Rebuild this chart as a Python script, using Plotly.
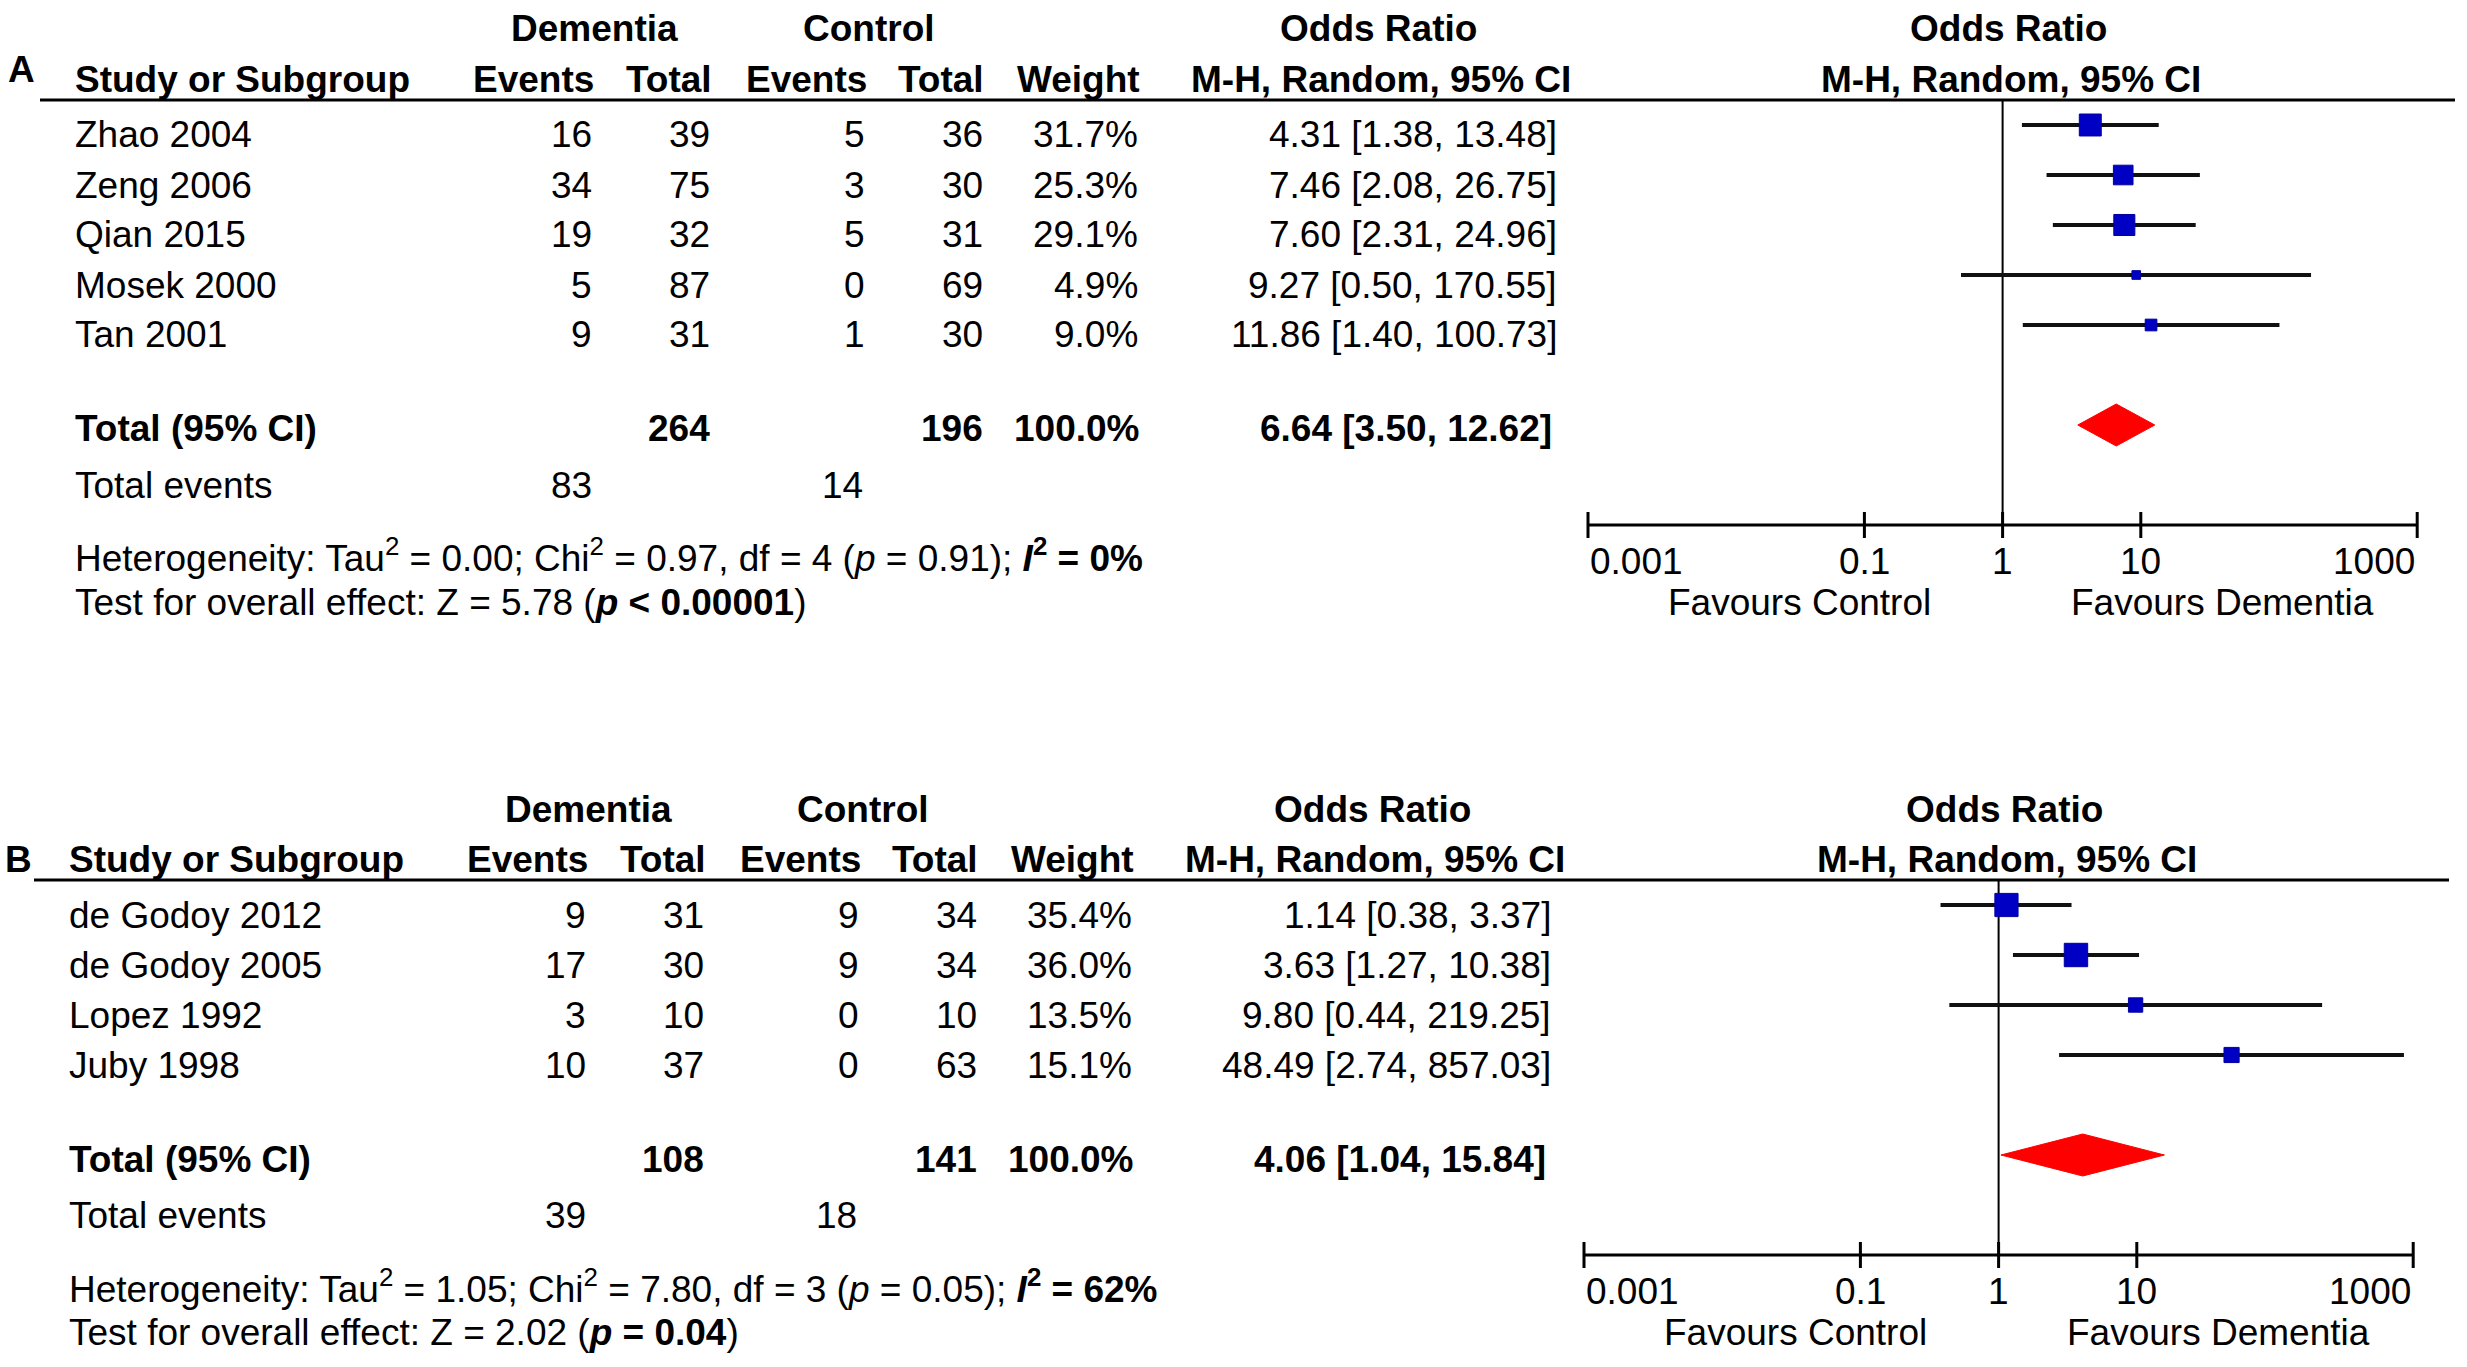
import numpy as np
import plotly.graph_objects as go

W, H = 2467, 1367
FONT = "Liberation Sans, Arial, Helvetica, sans-serif"
FS = 37

# ---- panel A data ----
A_STUDY = ["Zhao 2004", "Zeng 2006", "Qian 2015", "Mosek 2000", "Tan 2001"]
A_DEM_EV = [16, 34, 19, 5, 9]
A_DEM_N = [39, 75, 32, 87, 31]
A_CTL_EV = [5, 3, 5, 0, 1]
A_CTL_N = [36, 30, 31, 69, 30]
A_WEIGHT = [31.7, 25.3, 29.1, 4.9, 9.0]
A_OR = [4.31, 7.46, 7.60, 9.27, 11.86]
A_LO = [1.38, 2.08, 2.31, 0.50, 1.40]
A_HI = [13.48, 26.75, 24.96, 170.55, 100.73]
A_TOT_N = [264, 196]
A_TOT_EV = [83, 14]
A_TOT_OR = [6.64, 3.50, 12.62]
A_HET = ("Heterogeneity: Tau<sup>2</sup> = 0.00; Chi<sup>2</sup> = 0.97, df = 4 "
         "(<i>p</i> = 0.91); <b><i>I</i><sup>2</sup> = 0%</b>")
A_TEST = "Test for overall effect: Z = 5.78 (<b><i>p</i> &lt; 0.00001</b>)"

# ---- panel B data ----
B_STUDY = ["de Godoy 2012", "de Godoy 2005", "Lopez 1992", "Juby 1998"]
B_DEM_EV = [9, 17, 3, 10]
B_DEM_N = [31, 30, 10, 37]
B_CTL_EV = [9, 9, 0, 0]
B_CTL_N = [34, 34, 10, 63]
B_WEIGHT = [35.4, 36.0, 13.5, 15.1]
B_OR = [1.14, 3.63, 9.80, 48.49]
B_LO = [0.38, 1.27, 0.44, 2.74]
B_HI = [3.37, 10.38, 219.25, 857.03]
B_TOT_N = [108, 141]
B_TOT_EV = [39, 18]
B_TOT_OR = [4.06, 1.04, 15.84]
B_HET = ("Heterogeneity: Tau<sup>2</sup> = 1.05; Chi<sup>2</sup> = 7.80, df = 3 "
         "(<i>p</i> = 0.05); <b><i>I</i><sup>2</sup> = 62%</b>")
B_TEST = "Test for overall effect: Z = 2.02 (<b><i>p</i> = 0.04</b>)"

TICK_VALS = [0.001, 0.1, 1, 10, 1000]
TICK_TEXT = ["0.001", "0.1", "1", "10", "1000"]
TICK_ANCHOR = ["left", "center", "center", "center", "right"]


def px(x):
    return x / W


def py(y):
    return 1 - y / H


fig = go.Figure()
annotations = []
shapes = []


def txt(x, y, s, anchor="right", bold=False):
    if bold:
        s = f"<b>{s}</b>"
    annotations.append(dict(
        x=px(x), y=py(y), xref="paper", yref="paper", text=s,
        showarrow=False, xanchor=anchor, yanchor="middle",
        font=dict(family=FONT, size=FS, color="black"),
    ))


def panel(idx, letter, top, dx, fdx, study, dev, dn, cev, cn, wt, orr, lo, hi,
          tot_n, tot_ev, tot_or, het, test):
    n = len(study)
    xa = "x" if idx == 1 else f"x{idx}"
    ya = "y" if idx == 1 else f"y{idx}"

    # column headers
    txt(594 + dx, top + 29, "Dementia", "center", True)
    txt(869 + dx, top + 29, "Control", "center", True)
    txt(1378 + dx, top + 29, "Odds Ratio", "center", True)
    txt(2010 + fdx, top + 29, "Odds Ratio", "center", True)
    h2 = top + 79
    txt(73 + dx, h2, "Study or Subgroup", "left", True)
    txt(596 + dx, h2, "Events", bold=True)
    txt(714 + dx, h2, "Total", bold=True)
    txt(869 + dx, h2, "Events", bold=True)
    txt(986 + dx, h2, "Total", bold=True)
    txt(1142 + dx, h2, "Weight", bold=True)
    txt(1381 + dx, h2, "M-H, Random, 95% CI", "center", True)
    txt(2013 + fdx, h2, "M-H, Random, 95% CI", "center", True)
    annotations.append(dict(
        x=px(6 + dx / 2), y=py(top + 69 if idx == 1 else top + 79), xref="paper", yref="paper",
        text=f"<b>{letter}</b>", showarrow=False, xanchor="left", yanchor="middle",
        font=dict(family=FONT, size=FS, color="black"),
    ))
    shapes.append(dict(type="line", xref="paper", yref="paper",
                       x0=px(40 + dx), x1=px(2455 + dx), y0=py(top + 100), y1=py(top + 100),
                       line=dict(color="black", width=3)))

    # study rows
    for i in range(n):
        y = top + 135 + 50 * i
        txt(73 + dx, y, study[i], "left")
        txt(594 + dx, y, str(dev[i]))
        txt(712 + dx, y, str(dn[i]))
        txt(867 + dx, y, str(cev[i]))
        txt(985 + dx, y, str(cn[i]))
        txt(1140 + dx, y, f"{wt[i]:.1f}%")
        txt(1559 + dx, y, f"{orr[i]:.2f} [{lo[i]:.2f}, {hi[i]:.2f}]")

    yt = top + 129 + 50 * (n + 1)
    txt(73 + dx, yt, "Total (95% CI)", "left", True)
    txt(712 + dx, yt, str(tot_n[0]), bold=True)
    txt(985 + dx, yt, str(tot_n[1]), bold=True)
    txt(1142 + dx, yt, "100.0%", bold=True)
    txt(1554 + dx, yt, f"{tot_or[0]:.2f} [{tot_or[1]:.2f}, {tot_or[2]:.2f}]", bold=True)
    txt(73 + dx, yt + 56, "Total events", "left")
    txt(594 + dx, yt + 56, str(tot_ev[0]))
    txt(865 + dx, yt + 56, str(tot_ev[1]))
    txt(73 + dx, yt + 127, het, "left")
    txt(73 + dx, yt + 173, test, "left")

    # forest plot
    ax_row = n + 3
    null_line = go.Scatter(x=[1, 1], y=[-0.5, ax_row], mode="lines",
                           line=dict(color="black", width=2), xaxis=xa, yaxis=ya,
                           hoverinfo="skip", showlegend=False)
    cx, cy = [], []
    for i in range(n):
        cx += [lo[i], hi[i], None]
        cy += [i, i, None]
    ci = go.Scatter(x=cx, y=cy, mode="lines", line=dict(color="#111111", width=3.8),
                    xaxis=xa, yaxis=ya, hoverinfo="skip", showlegend=False)
    sq = go.Scatter(x=orr, y=list(range(n)), mode="markers",
                    marker=dict(symbol="square", color="#0000c4", opacity=1,
                                size=[3.9 * np.sqrt(w) for w in wt],
                                line=dict(width=1, color="#0000a0")),
                    xaxis=xa, yaxis=ya, showlegend=False)
    r = n + 1
    dia = go.Scatter(x=[tot_or[1], tot_or[0], tot_or[2], tot_or[0], tot_or[1]],
                     y=[r, r - 0.42, r, r + 0.42, r], mode="lines", fill="toself",
                     fillcolor="#ff0000", line=dict(color="#ff0000", width=1),
                     xaxis=xa, yaxis=ya, hoverinfo="skip", showlegend=False)
    axis_line = go.Scatter(x=[TICK_VALS[0], TICK_VALS[-1]], y=[ax_row, ax_row], mode="lines",
                           line=dict(color="black", width=3), xaxis=xa, yaxis=ya,
                           hoverinfo="skip", showlegend=False)
    tx, ty = [], []
    for t in TICK_VALS:
        tx += [t, t, None]
        ty += [ax_row - 0.26, ax_row + 0.26, None]
    ticks = go.Scatter(x=tx, y=ty, mode="lines", line=dict(color="black", width=3),
                       xaxis=xa, yaxis=ya, hoverinfo="skip", showlegend=False)
    fig.add_traces([null_line, ci, sq, dia, axis_line, ticks])

    axis_px = top + 125 + 50 * ax_row
    for t, s, anc in zip(TICK_VALS, TICK_TEXT, TICK_ANCHOR):
        annotations.append(dict(
            x=np.log10(t), y=py(axis_px + 36), xref=xa, yref="paper", text=s,
            showarrow=False, xanchor=anc, yanchor="middle",
            font=dict(family=FONT, size=FS, color="black"),
        ))
    txt(1801 + fdx, axis_px + 77, "Favours Control", "center")
    txt(2224 + fdx, axis_px + 77, "Favours Dementia", "center")

    x0 = 1590 + fdx
    dec = 138.2
    fig.update_layout(**{
        ("xaxis" if idx == 1 else f"xaxis{idx}"): dict(
            type="log", range=[-3.1, 3.1],
            domain=[px(x0 - 0.1 * dec), px(x0 + 6.1 * dec)], visible=False,
            anchor=ya, fixedrange=True),
        ("yaxis" if idx == 1 else f"yaxis{idx}"): dict(
            range=[n + 3.5, -0.5],
            domain=[py(top + 100 + 50 * (n + 4)), py(top + 100)], visible=False,
            anchor=xa, fixedrange=True),
    })


panel(1, "A", 0, 0, -2, A_STUDY, A_DEM_EV, A_DEM_N, A_CTL_EV, A_CTL_N, A_WEIGHT,
      A_OR, A_LO, A_HI, A_TOT_N, A_TOT_EV, A_TOT_OR, A_HET, A_TEST)
panel(2, "B", 780, -6, -6, B_STUDY, B_DEM_EV, B_DEM_N, B_CTL_EV, B_CTL_N, B_WEIGHT,
      B_OR, B_LO, B_HI, B_TOT_N, B_TOT_EV, B_TOT_OR, B_HET, B_TEST)

fig.update_layout(
    width=W, height=H, margin=dict(l=0, r=0, t=0, b=0),
    paper_bgcolor="white", plot_bgcolor="rgba(0,0,0,0)",
    annotations=annotations, shapes=shapes, showlegend=False,
    font=dict(family=FONT, size=FS, color="black"),
)

fig.write_html("out.html", config={"displayModeBar": False},
               post_script="document.body.style.margin='0';")
